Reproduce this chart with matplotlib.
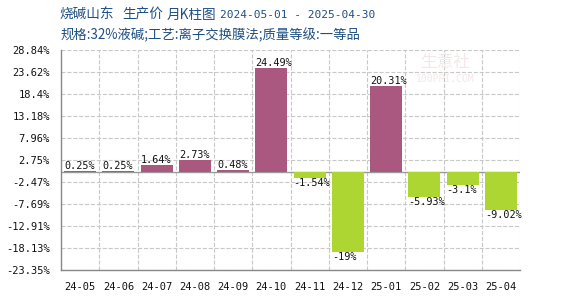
import matplotlib
matplotlib.use("Agg")
import matplotlib.pyplot as plt

# dane
months = ['24-05', '24-06', '24-07', '24-08', '24-09', '24-10',
          '24-11', '24-12', '25-01', '25-02', '25-03', '25-04']
values = [0.25, 0.25, 1.64, 2.73, 0.48, 24.49, -1.54, -19, 20.31, -5.93, -3.1, -9.02]
yticks = [-23.35, -18.13, -12.91, -7.69, -2.47, 2.75, 7.96, 13.18, 18.4, 23.62, 28.84]

title_parts = ['烧碱山东', '生产价', '月K柱图']
title_dates = '2024-05-01 - 2025-04-30'
title2 = '规格:32%液碱;工艺:离子交换膜法;质量等级:一等品'

pos_color = '#aa5880'
neg_color = '#add633'
mono = 'DejaVu Sans Mono'
cjk = ['Noto Sans CJK SC', 'DejaVu Sans']

fig = plt.figure(figsize=(5.7, 3.0), dpi=100)
ax = fig.add_axes([61/570, 30/300, 459/570, 220/300])

x = range(len(months))
colors = [pos_color if v >= 0 else neg_color for v in values]
bars = ax.bar(x, values, width=0.84, color=colors, zorder=3)

for b, v in zip(bars, values):
    lbl = f"{v:g}%"
    ax.text(b.get_x(), v, lbl, ha='left', va='bottom' if v >= 0 else 'top',
            fontsize=7.3, family=mono, color='#111111', zorder=4)

ax.set_xlim(-0.5, len(months) - 0.5)
ax.set_ylim(yticks[0], yticks[-1])
ax.set_yticks(yticks)
ax.set_yticklabels([f"{t:g}%" for t in yticks], family=mono, fontsize=7.5)
ax.set_xticks(list(x))
ax.set_xticklabels(months, family=mono, fontsize=7.5)
ax.tick_params(length=0, pad=8, colors='#111111')
ax.tick_params(axis='x', pad=9)

# siatka
ax.set_xticks([i + 0.5 for i in x], minor=True)
ax.grid(True, axis='y', color='#c8c8c8', linestyle='--', linewidth=0.8, zorder=0)
ax.grid(True, axis='x', which='minor', color='#c8c8c8', linestyle='--', linewidth=0.8, zorder=0)
ax.tick_params(which='minor', length=0)
ax.axhline(0, color='#999999', linewidth=1, zorder=2)

for s in ['top', 'right']:
    ax.spines[s].set_visible(False)
for s in ['left', 'bottom']:
    ax.spines[s].set_color('#888888')
    ax.spines[s].set_linewidth(1)

# tytuł
for px, part in zip([60, 122, 167], title_parts):
    fig.text(px/570, 1 - 15/300, part, family=cjk, fontsize=9.8, color='#1f4f82', va='center')
fig.text(220/570, 1 - 15/300, title_dates, family=mono, fontsize=8, color='#1f4f82', va='center')
fig.text(60/570, 1 - 35/300, title2, family=cjk, fontsize=9.6, color='#1f4f82', va='center')

# znak wodny
fig.text(445/570, 1 - 63/300, '生意社', family=cjk, fontsize=12, color='#f3e8e8', ha='center', va='center')
fig.text(445/570, 1 - 79/300, '100PPI.COM', family=mono, fontsize=7, color='#f3e8e8', ha='center', va='center')

fig.savefig('out.png', dpi=100)
